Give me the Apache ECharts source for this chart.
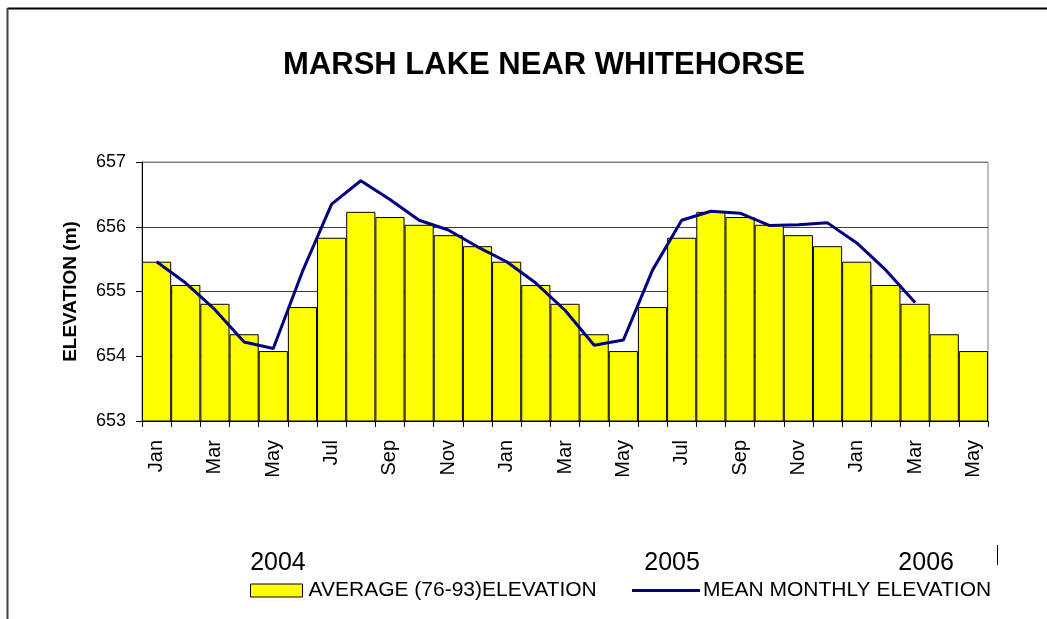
<!DOCTYPE html>
<html>
<head>
<meta charset="utf-8">
<script src="https://cdn.jsdelivr.net/npm/echarts@6/dist/echarts.min.js"></script>
<style>
html,body{margin:0;padding:0;background:#fff;}
#chart{width:1047px;height:619px;}
</style>
</head>
<body>
<div id="chart"></div>
<script>
var months = ['Jan','Feb','Mar','Apr','May','Jun','Jul','Aug','Sep','Oct','Nov','Dec',
              'Jan','Feb','Mar','Apr','May','Jun','Jul','Aug','Sep','Oct','Nov','Dec',
              'Jan','Feb','Mar','Apr','May'];
var years = ['2004','2005','2006'];
var averageElevation = [655.46,655.10,654.81,654.34,654.08,654.76,655.83,656.23,656.15,656.03,655.87,655.70,
                        655.46,655.10,654.81,654.34,654.08,654.76,655.83,656.23,656.15,656.03,655.87,655.70,
                        655.46,655.10,654.81,654.34,654.08];
var meanMonthly = [655.46,655.13,654.72,654.22,654.12,655.31,656.35,656.71,656.42,656.10,655.95,655.69,
                   655.46,655.13,654.71,654.17,654.25,655.33,656.10,656.24,656.21,656.02,656.03,656.06,
                   655.75,655.33,654.83,null,null];
var seriesNames = ['AVERAGE (76-93)ELEVATION','MEAN MONTHLY ELEVATION'];
var chartTitle = 'MARSH LAKE NEAR WHITEHORSE';
var yAxisTitle = 'ELEVATION (m)';

var FONT = '"Liberation Sans", Arial, sans-serif';
var yearPos = [4.66, 18.17, 26.88];
var chart = echarts.init(document.getElementById('chart'), null, {renderer:'canvas'});
chart.setOption({
  animation:false,
  backgroundColor:'#ffffff',
  title:{
    text: chartTitle,
    left: 539, top: 45, textAlign:'center',
    textStyle:{fontFamily:FONT,fontSize:31,fontWeight:'bold',color:'#000'}
  },
  graphic:[
    {type:'line', shape:{x1:7.5,y1:8.5,x2:1047,y2:8.5}, style:{stroke:'#000',lineWidth:2}},
    {type:'line', shape:{x1:7.5,y1:8,x2:7.5,y2:619}, style:{stroke:'#404040',lineWidth:2}},
    {type:'line', shape:{x1:997.5,y1:545,x2:997.5,y2:565}, style:{stroke:'#000',lineWidth:1}}
  ],
  grid:{left:142,right:59,top:162,bottom:198,show:true,borderColor:'#808080',borderWidth:1,backgroundColor:'transparent'},
  legend:[
    {data:[{name:seriesNames[0], icon:'rect'}], left:250, top:580, padding:0, itemWidth:52, itemHeight:13, itemGap:0,
     itemStyle:{borderColor:'#000',borderWidth:1},
     textStyle:{fontFamily:FONT,fontSize:21,color:'#000',padding:[0,0,0,1]}},
    {data:[{name:seriesNames[1], icon:'rect'}], left:632, top:580, padding:0, itemWidth:68, itemHeight:3, itemGap:0,
     textStyle:{fontFamily:FONT,fontSize:21,color:'#000',padding:[0,0,0,-2]}}
  ],
  xAxis:[
    {type:'category', data:months, boundaryGap:true,
     axisLine:{lineStyle:{color:'#000',width:1}},
     axisTick:{show:true,interval:0,length:6,lineStyle:{color:'#000'}},
     axisLabel:{interval:1,rotate:90,margin:19,fontFamily:FONT,fontSize:20,color:'#000'},
     splitLine:{show:false}},
    {type:'value', min:0, max:29, position:'bottom', offset:130,
     axisLine:{show:false}, axisTick:{show:false}, splitLine:{show:false},
     axisLabel:{customValues:yearPos, margin:0, fontFamily:FONT, fontSize:25, color:'#000',
       formatter:function(v){ var i=yearPos.indexOf(v); return i>=0?years[i]:''; }}}
  ],
  yAxis:{
    type:'value', min:653, max:657, interval:1,
    name:yAxisTitle, nameLocation:'middle', nameGap:62, nameRotate:90,
    nameTextStyle:{fontFamily:FONT,fontSize:19,fontWeight:'bold',color:'#000'},
    axisLine:{show:true,lineStyle:{color:'#000'}},
    axisTick:{show:true,length:6,lineStyle:{color:'#000'}},
    axisLabel:{margin:16,fontFamily:FONT,fontSize:18,color:'#000'},
    splitLine:{show:true,lineStyle:{color:['#000','#404040','#404040','#404040','#808080'],width:1}}
  },
  series:[
    {name:seriesNames[0], type:'bar', data:averageElevation, barCategoryGap:'0%',
     itemStyle:{color:'#ffff00',borderColor:'#000',borderWidth:1}},
    {name:seriesNames[1], type:'line', data:meanMonthly, symbol:'none', connectNulls:false,
     lineStyle:{color:'#000080',width:3}, itemStyle:{color:'#000080'}}
  ]
});
</script>
</body>
</html>
